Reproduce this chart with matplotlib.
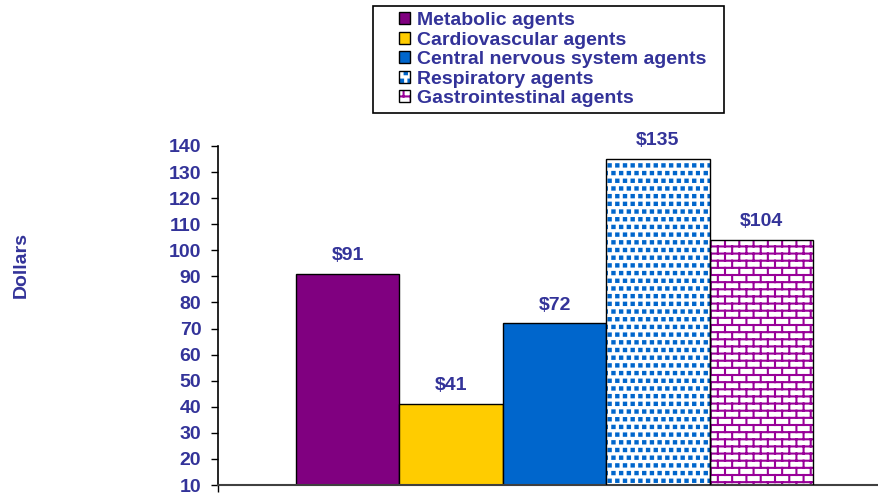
import warnings
import matplotlib
matplotlib.use("Agg")
import matplotlib.pyplot as plt
import matplotlib.hatch as mhatch
from matplotlib.path import Path
from matplotlib.patches import Rectangle
from matplotlib.legend_handler import HandlerTuple

warnings.filterwarnings("ignore")

# data
categories = ["Metabolic agents", "Cardiovascular agents",
              "Central nervous system agents", "Respiratory agents",
              "Gastrointestinal agents"]
values = [91, 41, 72, 135, 104]
yticks = [10, 20, 30, 40, 50, 60, 70, 80, 90, 100, 110, 120, 130, 140]

TXT = "#333399"
face_colors = ["#800080", "#FFCC00", "#0066CC", "white", "white"]
hatch_colors = [None, None, None, "#0066CC", "#990099"]
hatches = [None, None, None, "d", "b"]


# custom hatch: staggered little squares
class SquareDotHatch(mhatch.HatchPatternBase):
    def __init__(self, hatch, density):
        n = hatch.count("d") * 13
        self.squares = []
        if n:
            s = 1.0 / n
            a = 0.15 * s
            for r in range(n):
                for c in range(n):
                    x = (c + 0.25 + 0.5 * (r % 2)) * s
                    y = (r + 0.5) * s
                    self.squares.append((x, y, a))
        self.num_vertices = len(self.squares) * 5

    def set_vertices_and_codes(self, vertices, codes):
        for i, (x, y, a) in enumerate(self.squares):
            vertices[i*5:i*5+5] = [(x-a, y-a), (x+a, y-a), (x+a, y+a),
                                   (x-a, y+a), (x-a, y-a)]
            codes[i*5:i*5+5] = [Path.MOVETO, Path.LINETO, Path.LINETO,
                                Path.LINETO, Path.CLOSEPOLY]


# custom hatch: brick wall
class BrickHatch(mhatch.HatchPatternBase):
    def __init__(self, hatch, density):
        rows = hatch.count("b") * 14
        cols = 7
        self.segs = []
        if rows:
            h = 1.0 / rows
            w = 1.0 / cols
            for r in range(rows):
                y0 = (r + 0.5) * h
                y1 = y0 + h
                self.segs.append(((0.0, y0), (1.0, y0)))
                shift = 0.5 * w if r % 2 else 0.0
                for c in range(cols):
                    x = (c + 0.25) * w + shift
                    if y1 > 1.0:
                        self.segs.append(((x, y0), (x, 1.0)))
                        self.segs.append(((x, 0.0), (x, y1 - 1.0)))
                    else:
                        self.segs.append(((x, y0), (x, y1)))
        self.num_vertices = len(self.segs) * 2

    def set_vertices_and_codes(self, vertices, codes):
        for i, (p0, p1) in enumerate(self.segs):
            vertices[2*i] = p0
            vertices[2*i+1] = p1
            codes[2*i] = Path.MOVETO
            codes[2*i+1] = Path.LINETO


mhatch._hatch_types.append(SquareDotHatch)
mhatch._hatch_types.append(BrickHatch)

plt.rcParams["font.family"] = ["Liberation Sans", "DejaVu Sans"]
plt.rcParams["font.weight"] = "bold"
plt.rcParams["hatch.linewidth"] = 1.5

fig = plt.figure(figsize=(8.79, 4.95), dpi=100)
ax = fig.add_axes([218/879, 10/495, 661/879, 339/495])

x = list(range(len(values)))
handles = []
for i in x:
    if hatches[i] is None:
        b = ax.bar(i, values[i], width=1.0, color=face_colors[i],
                   edgecolor="black", linewidth=1.0, zorder=2)
        handles.append(b[0])
    else:
        b1 = ax.bar(i, values[i], width=1.0, color="white",
                    edgecolor=hatch_colors[i], linewidth=0,
                    hatch=hatches[i], zorder=2)
        b2 = ax.bar(i, values[i], width=1.0, fill=False,
                    edgecolor="black", linewidth=1.0, zorder=3)
        handles.append((b1[0], b2[0]))
    ax.annotate(f"${values[i]}", (i, values[i]), xytext=(0, 7),
                textcoords="offset points", ha="center", va="bottom",
                fontsize=14, fontweight="bold", color=TXT)

ax.set_ylim(10, 140)
ax.set_xlim(-1.254, 5.138)
ax.set_yticks(yticks)
ax.set_yticklabels([str(t) for t in yticks])
ax.tick_params(axis="y", direction="out", length=5, width=1, pad=7,
               labelsize=14, labelcolor=TXT)
ax.set_xticks([-1.254])
ax.tick_params(axis="x", direction="out", length=5, width=1,
               labelbottom=False)
for lab in ax.get_yticklabels():
    lab.set_fontweight("bold")
ax.spines["top"].set_visible(False)
ax.spines["right"].set_visible(False)
ax.spines["left"].set_linewidth(1.2)
ax.spines["bottom"].set_linewidth(1.5)
ax.spines["bottom"].set_color("#404040")

fig.text(21/879, 1 - 265/495, "Dollars", rotation=90, ha="center",
         va="center", fontsize=14, fontweight="bold", color=TXT)

leg = fig.legend(handles, categories, loc="upper left",
                 bbox_to_anchor=(399/879, 1 - 12/495),
                 bbox_transform=fig.transFigure, borderaxespad=0,
                 frameon=False, fontsize=14, labelcolor=TXT,
                 handlelength=0.55, handleheight=0.55, handletextpad=0.4,
                 labelspacing=0.13, borderpad=0,
                 handler_map={tuple: HandlerTuple(ndivide=1, pad=0)},
                 prop={"weight": "bold", "size": 14})
fig.patches.append(Rectangle((373/879, 1 - 113/495), 351/879, 107/495,
                             transform=fig.transFigure, fill=False,
                             edgecolor="black", linewidth=1.2))

fig.savefig("out.png", dpi=100)
